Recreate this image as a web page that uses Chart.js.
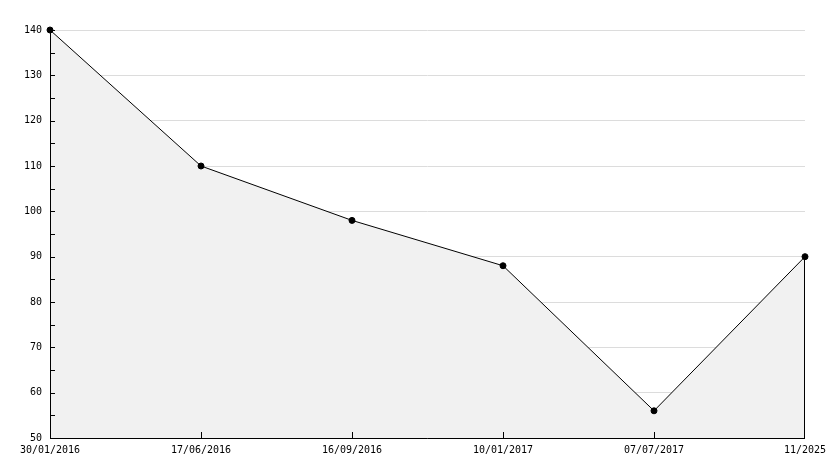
<!DOCTYPE html>
<html>
<head>
<meta charset="utf-8">
<script src="https://cdn.jsdelivr.net/npm/chart.js@4/dist/chart.umd.min.js"></script>
<style>
  html, body { margin: 0; padding: 0; background: #fff; }
  #wrap { width: 834px; height: 468px; }
</style>
</head>
<body>
<div id="wrap"><canvas id="grafico" width="834" height="468"></canvas></div>
<script>
// dados
const datas = ["30/01/2016", "17/06/2016", "16/09/2016", "10/01/2017", "07/07/2017", "11/2025"];
const valores = [140, 110, 98, 88, 56, 90];
const yMin = 50;
const yMax = 140;

const fonte = { family: "'DejaVu Sans Mono', monospace", size: 10 };

// eixos pretos com marcas para dentro + contorno vertical da área
const eixos = {
    id: 'eixos',
    afterDatasetsDraw(chart) {
        const ctx = chart.ctx;
        const a = chart.chartArea;
        const x = chart.scales.x, y = chart.scales.y;
        ctx.save();
        ctx.strokeStyle = '#000';
        ctx.lineWidth = 1;
        ctx.beginPath();
        // eixo y e eixo x
        ctx.moveTo(a.left + 0.5, a.top);
        ctx.lineTo(a.left + 0.5, a.bottom + 0.5);
        ctx.lineTo(a.right, a.bottom + 0.5);
        // marcas do eixo y (a cada 5)
        for (let v = yMin; v <= yMax; v += 5) {
            const py = Math.round(y.getPixelForValue(v)) + 0.5;
            ctx.moveTo(a.left, py);
            ctx.lineTo(a.left + 5, py);
        }
        // marcas do eixo x
        datas.forEach((d, i) => {
            if (i === 0 || i === datas.length - 1) return;
            const px = Math.round(x.getPixelForValue(i)) + 0.5;
            ctx.moveTo(px, a.bottom);
            ctx.lineTo(px, a.bottom - 6);
        });
        // lado direito da área preenchida
        const ult = valores.length - 1;
        const pxU = Math.round(x.getPixelForValue(ult)) - 0.5;
        ctx.moveTo(pxU, y.getPixelForValue(valores[ult]));
        ctx.lineTo(pxU, a.bottom);
        ctx.stroke();
        ctx.restore();
    }
};

new Chart(document.getElementById('grafico'), {
    type: 'line',
    data: {
        labels: datas,
        datasets: [{
            data: valores,
            borderColor: '#000',
            borderWidth: 1,
            backgroundColor: '#f1f1f1',
            fill: 'start',
            tension: 0,
            pointStyle: 'circle',
            pointRadius: 3,
            pointBackgroundColor: '#000',
            pointBorderColor: '#000',
            pointBorderWidth: 1,
            clip: false
        }]
    },
    options: {
        responsive: false,
        animation: false,
        devicePixelRatio: 1,
        layout: { padding: { top: 30, right: 29, left: 0, bottom: 0 } },
        plugins: {
            legend: { display: false },
            tooltip: { enabled: false }
        },
        scales: {
            x: {
                type: 'category',
                offset: false,
                grid: { display: false, drawTicks: false },
                border: { display: false },
                ticks: {
                    color: '#000',
                    font: fonte,
                    maxRotation: 0,
                    autoSkip: false,
                    padding: 6
                },
                afterFit(scale) { scale.height = 30; }
            },
            y: {
                min: yMin,
                max: yMax,
                grid: {
                    drawTicks: false,
                    color: ctx => (ctx.tick && ctx.tick.value % 10 === 0) ? '#dcdcdc' : 'rgba(0,0,0,0)',
                    lineWidth: 1
                },
                border: { display: false },
                ticks: {
                    stepSize: 5,
                    color: '#000',
                    font: fonte,
                    padding: 8,
                    callback: v => (v % 10 === 0 ? v : '')
                },
                afterFit(scale) { scale.width = 50; }
            }
        }
    },
    plugins: [eixos]
});
</script>
</body>
</html>
